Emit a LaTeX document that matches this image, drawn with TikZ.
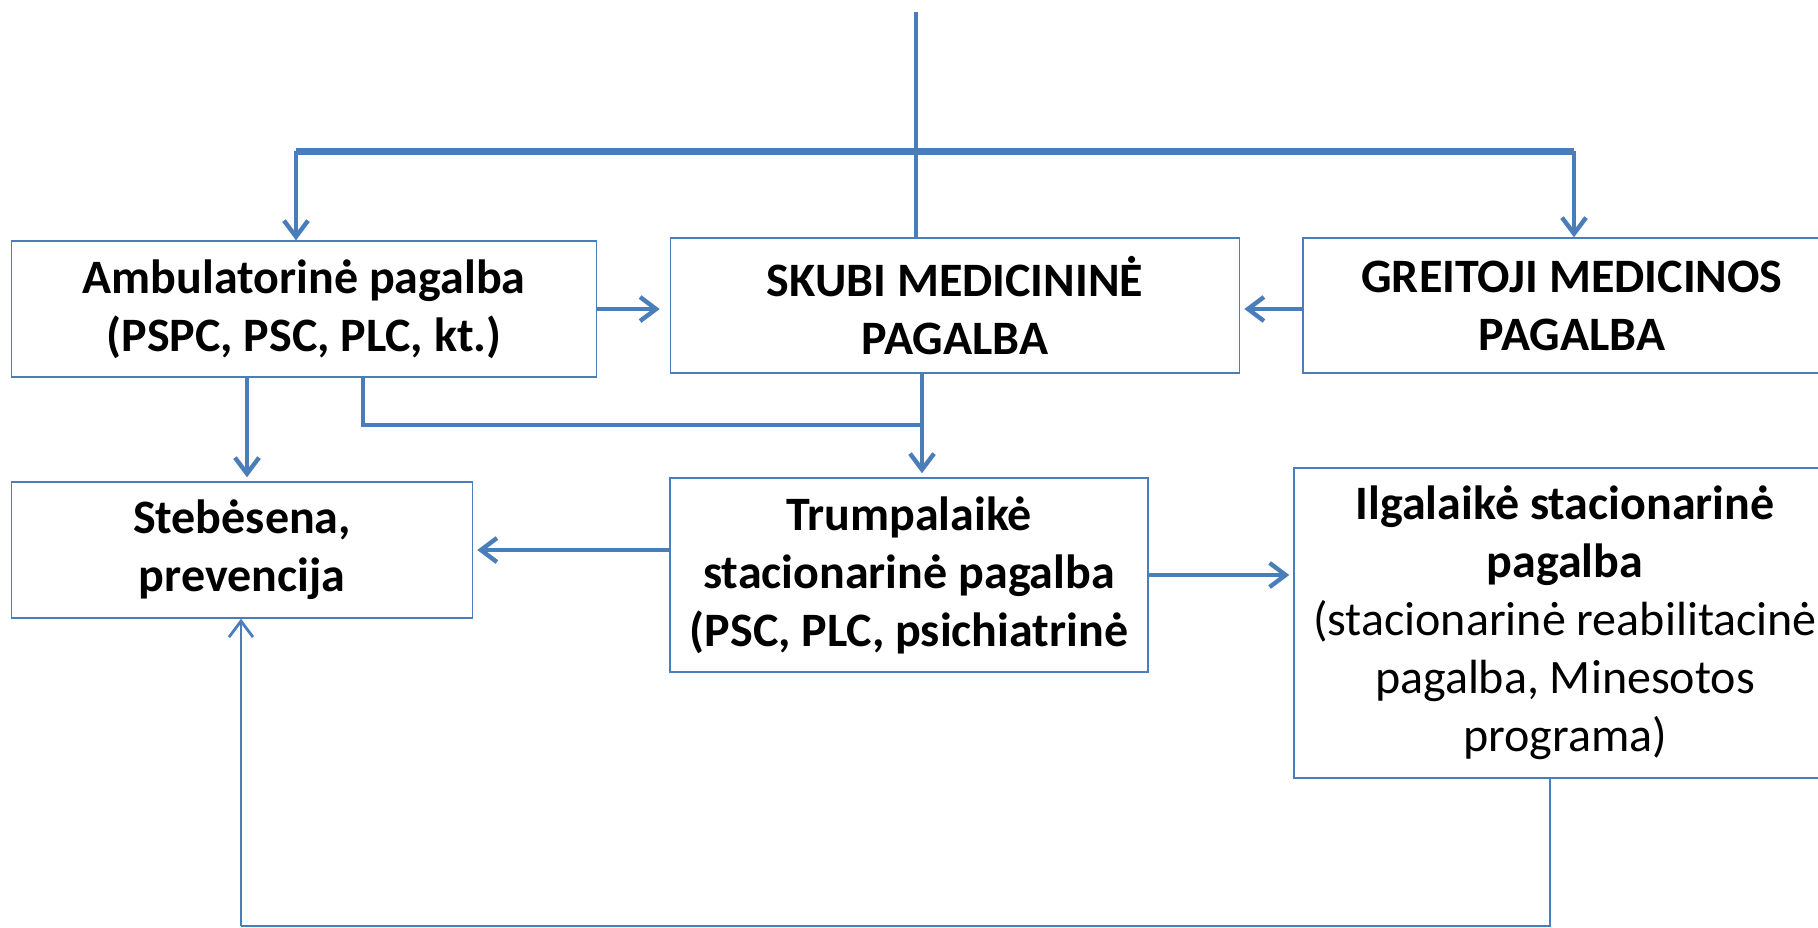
\documentclass[tikz,border=0pt]{standalone}
\usepackage{fontspec}
\setmainfont{Carlito}
\usetikzlibrary{arrows.meta}

\definecolor{linkblue}{RGB}{74,126,187}
\tikzset{
	box/.style={draw=linkblue, line width=.75pt, fill=white, align=center, inner sep=0pt,
		font=\fontsize{24}{29}\selectfont\bfseries},
	link/.style={draw=linkblue, line width=2.2pt},
}

\begin{document}
\begin{tikzpicture}[x=.5pt, y=-.5pt, >={Straight Barb[length=8pt,width=12pt]}]
	\useasboundingbox (0,0) rectangle (1818,927);

	% boxes
	\node[box, minimum width=292.5pt, minimum height=68pt] (amb) at (304,309)
		{Ambulatorinė pagalba\\(PSPC, PSC, PLC, kt.)};
	\node[box, minimum width=284.5pt, minimum height=67.5pt] (skubi) at (955,305.5)
		{SKUBI MEDICININĖ\\PAGALBA};
	\node[box, minimum width=269pt, minimum height=67.5pt] (greit) at (1572,305.5)
		{GREITOJI MEDICINOS\\PAGALBA};
	\node[box, minimum width=230.5pt, minimum height=68pt] (steb) at (242,550)
		{Stebėsena,\\prevencija};
	\node[box, minimum width=239pt, minimum height=97pt] (trump) at (909,575)
		{Trumpalaikė\\stacionarinė pagalba\\(PSC, PLC, psichiatrinė};
	\node[box, minimum width=271pt, minimum height=155pt] (ilga) at (1565,623)
		{Ilgalaikė stacionarinė\\pagalba\\\mdseries(stacionarinė reabilitacinė\\\mdseries pagalba, Minesotos\\\mdseries programa)};

	% top
	\coordinate (top) at (916,12);
	\coordinate (barl) at (296,151);
	\coordinate (barr) at (1574,151);
	\draw[link] (top) -- (skubi.north -| top);
	\draw[link, line width=3.5pt] (barl) -- (barr);
	\draw[link, ->] (barl) -- (amb.north -| barl);
	\draw[link, ->] (barr) -- (greit.north -| barr);

	% first row
	\draw[link, ->, shorten >=5pt] (amb.east) -- (amb.east -| skubi.west);
	\draw[link, ->, shorten >=2pt] (greit.west |- amb.east) -- (skubi.east |- amb.east);

	% to second row
	\coordinate (jl) at (363,425);
	\coordinate (jr) at (922,425);
	\draw[link] (amb.south -| jl) -- (jl) -- (jr);
	\draw[link, ->, shorten >=2pt] (skubi.south -| jr) -- (trump.north -| jr);
	\draw[link, ->, shorten >=2pt] (amb.south -| 247,0) -- (steb.north -| 247,0);
	\draw[link, ->, shorten >=2pt] (trump.west |- steb.east) -- (steb.east);
	\draw[link, ->, shorten >=2pt] (trump.east) -- (trump.east -| ilga.west);

	% back loop
	\coordinate (bl) at (241,926);
	\coordinate (br) at (1550,926);
	\draw[link, line width=1.4pt] (ilga.south -| br) -- (br) -- (bl);
	\draw[link, line width=1.4pt, ->] (bl) -- (steb.south -| bl);

\end{tikzpicture}
\end{document}
